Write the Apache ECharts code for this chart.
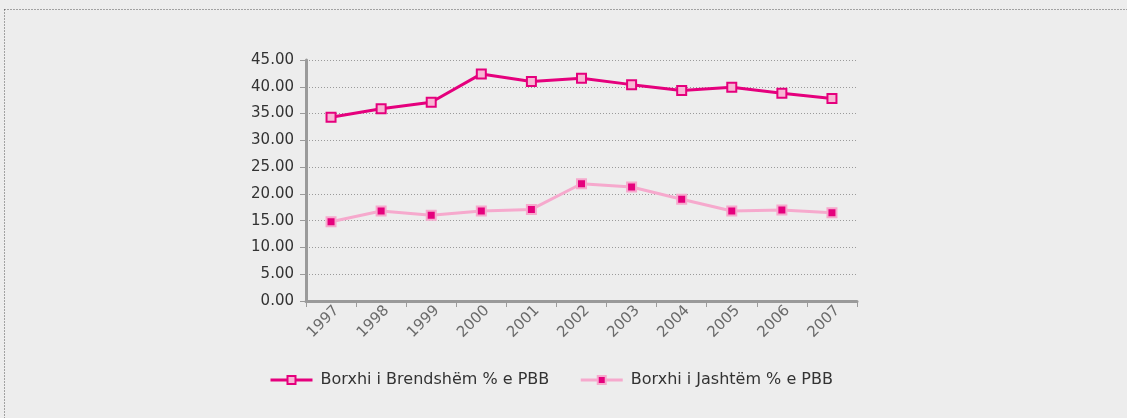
<!DOCTYPE html>
<html>
<head>
<meta charset="utf-8">
<script src="https://cdn.jsdelivr.net/npm/echarts@6/dist/echarts.min.js"></script>
<style>
  html, body { margin: 0; padding: 0; background: #ededed; }
  #container { width: 1127px; height: 418px; }
</style>
</head>
<body>
<div id="container"></div>
<script>
var years = ['1997', '1998', '1999', '2000', '2001', '2002', '2003', '2004', '2005', '2006', '2007'];
var brendshem = [34.3, 35.9, 37.1, 42.4, 41.0, 41.6, 40.4, 39.3, 39.9, 38.8, 37.8];
var jashtem = [14.8, 16.8, 16.0, 16.8, 17.1, 21.9, 21.3, 19.0, 16.8, 17.0, 16.5];
var seriesNames = ['Borxhi i Brendshëm % e PBB', 'Borxhi i Jashtëm % e PBB'];

var magenta = '#e5007d';
var pink = '#f6a9cd';
var fontName = 'DejaVu Sans';

var myChart = echarts.init(document.getElementById('container'));
myChart.setOption({
    backgroundColor: '#ededed',
    animation: false,
    textStyle: { fontFamily: fontName },
    graphic: [{
        type: 'rect',
        shape: { x: 4.5, y: 9.5, width: 1200, height: 500 },
        style: { fill: 'none', stroke: '#555', lineWidth: 1, lineDash: [1, 2] },
        silent: true
    }],
    grid: { left: 306, right: 270, top: 60, bottom: 117 },
    legend: {
        left: 264,
        top: 367,
        itemWidth: 42,
        itemHeight: 10,
        itemGap: 30,
        lineStyle: { width: 3 },
        textStyle: { fontFamily: fontName, fontSize: 16, color: '#333', padding: [0, 0, 0, 3] },
        data: seriesNames
    },
    xAxis: {
        type: 'category',
        data: years,
        boundaryGap: true,
        axisLine: { lineStyle: { color: '#9a9a9a', width: 3 } },
        axisTick: { show: true, length: 6, lineStyle: { color: '#9a9a9a', width: 1 } },
        axisLabel: {
            rotate: 45, color: '#6a6a6a', fontSize: 15, margin: 13, fontFamily: fontName,
            padding: [0, -8, 0, 0]
        }
    },
    yAxis: {
        type: 'value',
        min: 0,
        max: 45,
        interval: 5,
        axisLine: { show: true, lineStyle: { color: '#9a9a9a', width: 3 } },
        axisTick: { show: true, length: 6, lineStyle: { color: '#9a9a9a', width: 1 } },
        axisLabel: {
            color: '#333', fontSize: 15, margin: 12, fontFamily: fontName,
            formatter: function (v) { return v.toFixed(2); }
        },
        splitLine: { lineStyle: { color: '#9a9a9a', type: [1, 2], width: 1 } }
    },
    series: [
        {
            name: seriesNames[0],
            type: 'line',
            data: brendshem,
            symbol: 'rect',
            symbolSize: 9,
            lineStyle: { color: magenta, width: 3 },
            itemStyle: { color: '#f7b7d4', borderColor: magenta, borderWidth: 2 }
        },
        {
            name: seriesNames[1],
            type: 'line',
            data: jashtem,
            symbol: 'rect',
            symbolSize: 9,
            lineStyle: { color: pink, width: 3 },
            itemStyle: { color: magenta, borderColor: pink, borderWidth: 2 }
        }
    ]
});
</script>
</body>
</html>
